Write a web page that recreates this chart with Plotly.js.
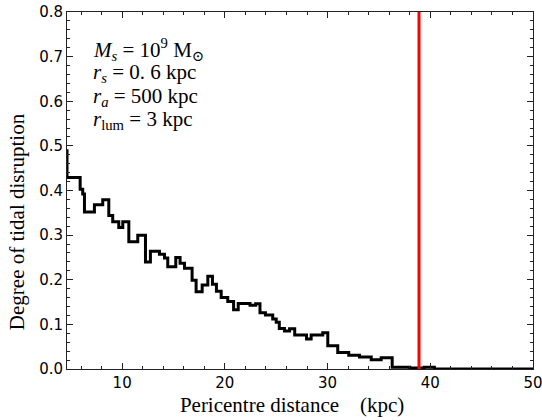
<!DOCTYPE html>
<html>
<head>
<meta charset="utf-8">
<script src="https://cdn.plot.ly/plotly-3.0.1.min.js"></script>
<style>html,body{margin:0;padding:0;background:#fff;}#chart{width:542px;height:420px;}</style>
</head>
<body>
<div id="chart"></div>
<script>
// Step histogram: left edge of each bin (kpc) and degree of tidal disruption
const binLeftEdges = [4.50, 4.63, 5.91, 6.16, 6.33, 7.30, 8.11, 8.70, 9.08, 9.67,
  10.06, 10.65, 11.52, 12.27, 12.75, 13.63, 14.12, 14.44, 15.22, 15.64,
  16.07, 16.81, 17.20, 17.79, 18.34, 18.79, 19.18, 19.64, 20.28, 20.85,
  21.30, 22.45, 23.00, 23.42, 23.95, 24.66, 25.00, 25.30, 25.80, 26.30,
  26.80, 27.95, 28.40, 29.53, 30.02, 30.99, 32.06, 33.11, 34.25, 35.22,
  36.29, 38.00, 39.40, 40.40, 50.00];
const disruption = [0.489, 0.429, 0.403, 0.392, 0.352, 0.368, 0.379, 0.344, 0.330, 0.317,
  0.330, 0.285, 0.300, 0.240, 0.264, 0.257, 0.249, 0.229, 0.250, 0.237,
  0.226, 0.199, 0.173, 0.188, 0.208, 0.190, 0.174, 0.160, 0.151, 0.133,
  0.147, 0.143, 0.146, 0.126, 0.121, 0.112, 0.105, 0.091, 0.085, 0.090,
  0.076, 0.067, 0.076, 0.081, 0.052, 0.037, 0.031, 0.027, 0.021, 0.025,
  0.004, 0.002, 0.004, 0.000, 0.000];
const markerDistance = [38.9, 38.9];
const markerLevels = [0, 0.8];
const xTickValues = [10, 20, 30, 40, 50];
const yTickValues = [0.0, 0.1, 0.2, 0.3, 0.4, 0.5, 0.6, 0.7, 0.8];
const paramLines = [
  "<i>M</i><sub><i>s</i></sub> = 10<sup>9</sup> M<sub>⊙</sub>",
  "<i>r</i><sub><i>s</i></sub> = 0. 6 kpc",
  "<i>r</i><sub><i>a</i></sub> = 500 kpc",
  "<i>r</i><sub>lum</sub> = 3 kpc"
];

const serif = "Liberation Serif, DejaVu Serif, serif";
const sans = "DejaVu Sans, sans-serif";
const pad = n => "&nbsp;".repeat(n);

const traces = [
  {
    x: binLeftEdges, y: disruption, type: 'scatter', mode: 'lines',
    line: {shape: 'hv', color: '#000000', width: 3},
    hoverinfo: 'skip', showlegend: false
  },
  {
    x: markerDistance, y: markerLevels, type: 'scatter', mode: 'lines',
    line: {color: '#ff0000', width: 3},
    hoverinfo: 'skip', showlegend: false
  }
];

const axisCommon = {
  showgrid: false, zeroline: false, showline: true, mirror: 'allticks',
  linecolor: '#222', linewidth: 1, ticks: 'inside', ticklen: 6, tickwidth: 1,
  tickcolor: '#222', tickfont: {family: sans, size: 15, color: '#000'},
  ticklabeloverflow: 'allow'
};

const lineY = [0.896, 0.830, 0.762, 0.697];
const annotations = paramLines.map((t, i) => ({
  text: t, xref: 'paper', yref: 'paper', x: 0.052, y: lineY[i],
  xanchor: 'left', yanchor: 'middle', showarrow: false,
  font: {family: serif, size: 21, color: '#000'}
}));

const layout = {
  width: 542, height: 420,
  margin: {l: 67, r: 9, t: 12, b: 51},
  paper_bgcolor: '#fff', plot_bgcolor: '#fff',
  xaxis: Object.assign({}, axisCommon, {
    range: [4.63, 50], tickvals: xTickValues, ticktext: xTickValues.map(String),
    minor: {dtick: 2, tick0: 0, ticks: 'inside', ticklen: 3, tickcolor: '#222'},
    title: {text: "Pericentre distance" + pad(4) + "(kpc)" + pad(3), font: {family: serif, size: 21, color: '#000'}, standoff: 6}
  }),
  yaxis: Object.assign({}, axisCommon, {
    range: [0, 0.8], tickvals: yTickValues, ticktext: yTickValues.map(v => v.toFixed(1)),
    minor: {dtick: 0.02, tick0: 0, ticks: 'inside', ticklen: 3, tickcolor: '#222'},
    title: {text: "Degree of tidal disruption" + pad(12), font: {family: serif, size: 21, color: '#000'}, standoff: 8}
  }),
  annotations: annotations
};

Plotly.newPlot('chart', traces, layout, {staticPlot: true, displayModeBar: false});
</script>
</body>
</html>
